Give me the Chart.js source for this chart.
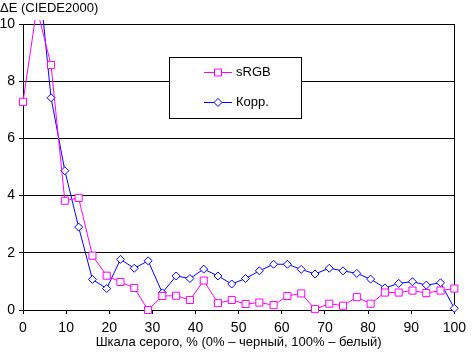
<!DOCTYPE html>
<html>
<head>
<meta charset="utf-8">
<script src="https://cdn.jsdelivr.net/npm/chart.js@4"></script>
<style>
  html, body { margin: 0; padding: 0; background: #fff; }
  #wrap { width: 472px; height: 353px; }
</style>
</head>
<body>
<div id="wrap"><canvas id="chart" width="472" height="353"></canvas></div>
<script>
// grey level, %
const greyLevels = [0, 3.2, 6.5, 9.7, 12.9, 16.1, 19.4, 22.6, 25.8, 29.0, 32.3, 35.5, 38.7, 41.9, 45.2, 48.4,
                    51.6, 54.8, 58.1, 61.3, 64.5, 67.7, 71.0, 74.2, 77.4, 80.6, 83.9, 87.1, 90.3, 93.5, 96.8, 100];
const srgbValues = [7.28, 10.55, 8.57, 3.82, 3.92, 1.90, 1.20, 0.98, 0.77, 0.00, 0.49, 0.50, 0.35, 1.03, 0.24, 0.35,
                    0.21, 0.26, 0.17, 0.49, 0.58, 0.03, 0.22, 0.15, 0.45, 0.22, 0.61, 0.61, 0.68, 0.59, 0.68, 0.75];
const corrValues = [12.0, 12.4, 7.42, 4.87, 2.90, 1.07, 0.75, 1.77, 1.46, 1.72, 0.60, 1.19, 1.10, 1.43, 1.19, 0.91,
                    1.10, 1.37, 1.60, 1.60, 1.42, 1.26, 1.46, 1.37, 1.28, 1.08, 0.77, 0.93, 0.99, 0.87, 0.95, 0.06];
const seriesNames = ["sRGB", "Корр."];
const xTicks = [0, 10, 20, 30, 40, 50, 60, 70, 80, 90, 100];
const yTicks = [0, 2, 4, 6, 8, 10];

const FONT = "'Liberation Sans', Arial, sans-serif";
const toPoints = vals => vals.map((v, i) => ({ x: greyLevels[i], y: v }));

// y title, right border and the boxed legend
const extras = {
    id: "extras",
    beforeDatasetsDraw(chart) {
        const { ctx, chartArea: a } = chart;
        ctx.save();
        ctx.strokeStyle = "#000";
        ctx.lineWidth = 1;
        ctx.beginPath();
        ctx.moveTo(Math.round(a.right) + 0.5, a.top);
        ctx.lineTo(Math.round(a.right) + 0.5, a.bottom);
        ctx.stroke();
        ctx.restore();
    },
    afterDraw(chart) {
        const { ctx } = chart;
        ctx.save();
        ctx.fillStyle = "#000";
        ctx.font = "13px " + FONT;
        ctx.textBaseline = "middle";
        ctx.textAlign = "left";
        ctx.fillText("ΔE (CIEDE2000)", 0, 8);

        // legend box
        ctx.fillStyle = "#fff";
        ctx.fillRect(169.5, 57.5, 132, 61);
        ctx.strokeStyle = "#000";
        ctx.lineWidth = 1;
        ctx.strokeRect(169.5, 57.5, 132, 61);
        const rows = [72.5, 102.5];
        chart.data.datasets.forEach((ds, i) => {
            const y = rows[i];
            ctx.strokeStyle = ds.borderColor;
            ctx.beginPath();
            ctx.moveTo(204, y);
            ctx.lineTo(232, y);
            ctx.stroke();
            ctx.fillStyle = "#fff";
            ctx.beginPath();
            if (ds.pointStyle === "rect") {
                ctx.rect(214.5, y - 3.5, 7, 7);
            } else {
                ctx.moveTo(218, y - 4);
                ctx.lineTo(222, y);
                ctx.lineTo(218, y + 4);
                ctx.lineTo(214, y);
                ctx.closePath();
            }
            ctx.fill();
            ctx.stroke();
            ctx.fillStyle = "#000";
            ctx.font = "13px " + FONT;
            ctx.fillText(ds.label, 236, y);
        });
        ctx.restore();
    }
};

new Chart(document.getElementById("chart"), {
    type: "line",
    data: {
        datasets: [
            {
                label: seriesNames[0],
                data: toPoints(srgbValues),
                borderColor: "#ff00ff",
                backgroundColor: "#ffffff",
                borderWidth: 1,
                pointStyle: "rect",
                pointRadius: 5,
                pointBorderWidth: 1,
                pointBackgroundColor: "#ffffff",
                tension: 0,
                clip: { left: 6, top: 4, right: 6, bottom: 6 },
            },
            {
                label: seriesNames[1],
                data: toPoints(corrValues),
                borderColor: "#0000ff",
                backgroundColor: "#ffffff",
                borderWidth: 1,
                pointStyle: "rectRot",
                pointRadius: 4,
                pointBorderWidth: 1,
                pointBackgroundColor: "#ffffff",
                tension: 0,
                clip: { left: 6, top: 4, right: 6, bottom: 6 },
            },
        ],
    },
    options: {
        responsive: false,
        animation: false,
        events: [],
        layout: { padding: { left: 0, right: 10, top: 24, bottom: 0 } },
        plugins: {
            legend: { display: false },
            tooltip: { enabled: false },
        },
        scales: {
            x: {
                type: "linear",
                min: 0,
                max: 100,
                afterBuildTicks: s => { s.ticks = xTicks.map(v => ({ value: v })); },
                afterFit: s => { s.height = 43; },
                ticks: { color: "#000", font: { family: FONT, size: 14 }, padding: 6, maxRotation: 0 },
                grid: { drawOnChartArea: false, drawTicks: true, tickLength: 4, color: "#000" },
                border: { color: "#000", width: 1 },
                title: {
                    display: true,
                    text: "Шкала серого, % (0% – черный, 100% – белый)",
                    color: "#000",
                    font: { family: FONT, size: 13 },
                    padding: { top: 0, bottom: 3 },
                },
            },
            y: {
                min: 0,
                max: 10,
                afterBuildTicks: s => { s.ticks = yTicks.map(v => ({ value: v })); },
                afterFit: s => { s.width = 23; },
                ticks: { color: "#000", font: { family: FONT, size: 14 }, padding: 4 },
                grid: { color: "#000", lineWidth: 1, drawTicks: true, tickLength: 4 },
                border: { color: "#000", width: 1 },
            },
        },
    },
    plugins: [extras],
});
</script>
</body>
</html>
